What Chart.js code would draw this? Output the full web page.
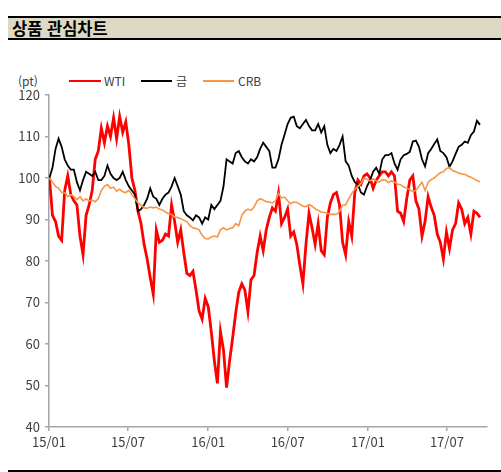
<!DOCTYPE html>
<html lang="ko">
<head>
<meta charset="utf-8">
<script src="https://cdn.jsdelivr.net/npm/chart.js@4.4.1/dist/chart.umd.min.js"></script>
<style>
    body { margin: 0; background: #fff; font-family: 'Noto Sans CJK KR', 'Noto Sans', sans-serif; }
    #wrap { position: relative; width: 501px; height: 472px; overflow: hidden; }
    #titlebar {
        position: absolute; left: 8px; top: 16px; width: 493px; height: 20px;
        background: #ddd9c4; border-top: 2px solid #000; border-bottom: 2px solid #000;
    }
    #titlebar span { position: absolute; left: 4px; top: 0; line-height: 20px; font-size: 16.5px; font-weight: bold; color: #000; }
    #bottomline { position: absolute; left: 8px; top: 470px; width: 493px; height: 2px; background: #000; }
    .lbl { position: absolute; font-size: 12px; color: #404040; line-height: 14px; }
    .key { position: absolute; height: 2px; }
    canvas { position: absolute; left: 0; top: 0; }
</style>
</head>
<body>
<div id="wrap">
    <div id="titlebar"><span>상품 관심차트</span></div>
    <div class="lbl" style="left:18px; top:74px;">(pt)</div>
    <div class="key" style="left:69px; top:80px; width:32px; background:#ff0000;"></div>
    <div class="lbl" style="left:104px; top:74px;">WTI</div>
    <div class="key" style="left:141px; top:80px; width:31px; background:#000;"></div>
    <div class="lbl" style="left:176px; top:74px;">금</div>
    <div class="key" style="left:203px; top:80px; width:31px; background:#f79646;"></div>
    <div class="lbl" style="left:238px; top:74px;">CRB</div>
    <canvas id="chart" width="501" height="472"></canvas>
    <div id="bottomline"></div>
</div>
<script>
// 주간 지수 (2015/01/02 = 100), 매주 금요일 기준
const firstDate = '2015-01-02';

const wti = [
    100, 91, 89.5, 86, 85, 97, 100.5, 96, 94.5, 93.5,
    86, 81.5, 91, 93.5, 97, 104.5, 106.5, 112, 108.5, 112.5,
    110, 114.5, 109.5, 114.8, 111, 113.5, 108, 100, 97, 92,
    89, 84, 80.5, 76, 72, 87.5, 84.5, 85, 86.5, 86,
    93.5, 89.5, 84.5, 87.5, 82, 77, 76.5, 77.5, 73, 68,
    66, 71, 69,
    63, 56, 50.5, 63, 58.5, 49.5, 56, 61.5, 67.5, 72.5,
    74.5, 73, 67.8, 75.5, 76.5, 82, 86, 82.5, 87.5, 90.5,
    92.8, 92, 96.3, 89, 90.5, 92.5, 86, 87, 84, 79,
    74.5, 84, 91.5, 88, 84, 89, 82.5, 81.5, 90.5, 94,
    96, 96.5, 93.5, 84.5, 81.5, 89.5, 86, 96.5, 99.5, 98.5,
    100.5, 101,
    100, 97.5, 99.5, 100.5, 101.5, 101.5, 100.5, 101.5, 100.5, 92,
    91.5, 89.5, 95, 99.5, 100.5, 94.5, 92.5, 86, 89.5, 95.5,
    93, 91, 86.5, 84.5, 80.5, 87, 83, 87.5, 89, 94,
    92.5, 89, 90.5, 86.5, 92, 91.5, 90.5
];

const gold = [
    100, 102.5, 107, 109.5, 107.5, 104.5, 103, 102, 102, 99,
    97, 99.5, 101.5, 101, 100.5, 101.5, 99.5, 99.5, 100.5, 103,
    101, 100, 99.5, 100, 101.5, 99.5, 98, 97, 96, 92,
    92.5, 93.5, 95, 97.5, 95.5, 95, 93.5, 95, 96, 96.5,
    98, 100, 98, 96, 92, 91, 90.5, 89.8, 91, 90.5,
    89, 90.5, 90,
    93.5, 92.5, 93.5, 94.5, 98, 104.5, 104, 103.5, 106, 106.5,
    105, 104, 103.5, 104.5, 104, 105, 107, 108.5, 107.5, 106.5,
    102.5, 102.5, 104.5, 108, 110.5, 113, 114.5, 114.8, 112.5, 112,
    113, 114, 112.5, 111.5, 111.5, 113, 111, 112.5, 108, 106,
    107, 106.5, 108, 110, 104, 103, 100.5, 99, 98.5, 96.5,
    96, 98,
    99.5, 101.5, 102.5, 101, 104.5, 105.5, 105.5, 106, 103.5, 102,
    104.5, 105.5, 105.8, 106.3, 108.8, 109, 107.5, 104.5, 102.8, 106,
    107, 108.2, 109.3, 106.5, 106, 105, 102.7, 104, 105.8, 107.5,
    108, 108.8, 108.5, 110.3, 111.2, 113.8, 112.8
];

const crb = [
    100, 99, 98, 97.5, 96.5, 96.5, 95.5, 96, 95.5, 94.8,
    95.5, 94.5, 95, 94.5, 94.7, 94.3, 95, 97, 98, 98.4,
    97.5, 97.8, 96.8, 97.3, 96.7, 96.5, 97, 96, 95, 94,
    93.5, 92.8, 92.7, 93, 92.8, 93, 92.5, 92.3, 91.8, 91.4,
    91.2, 90.6, 90.5, 90.2, 89.8, 89.5, 88.5, 88, 87.8, 87.5,
    86.2, 85.4, 85.3,
    85.8, 86, 85.8, 87.5, 88, 87.5, 87.8, 88, 89, 88.5,
    91, 92, 92.5, 92.2, 93, 94.5, 95, 94.7, 94.3, 94.2,
    94, 94.5, 96.3, 95.2, 95.4, 94.5, 93.8, 94.2, 94.1, 93.7,
    93.2, 93.1, 93.6, 93.2, 92.6, 92.2, 91.8, 91.7, 91.5, 91.2,
    91.3, 91.2, 92, 93.5, 93.5, 95, 96.3, 97.3, 98, 98.7,
    100, 99.7,
    99.3, 99.8, 99.3, 99, 99.6, 99.5, 98.9, 99.3, 99, 98.5,
    98.4, 97.8, 97.6, 97.2, 96.7, 97, 98, 99, 97, 99,
    99.6, 100, 100.7, 101.3, 101.5, 102.3, 102.5, 101.8, 101.5, 101.2,
    101, 100.9, 100.5, 100.2, 99.8, 99.4, 99.1
];

const tickLabels = ['15/01', '15/07', '16/01', '16/07', '17/01', '17/07'];
const tickDates = ['2015-01-01', '2015-07-01', '2016-01-01', '2016-07-01', '2017-01-01', '2017-07-01'];
const axisEnd = '2017-10-01';

function dayNum(s) {
    return Math.round((Date.parse(s) - Date.parse('2015-01-01')) / 86400000);
}

const tickDays = tickDates.map(dayNum);
const startDay = dayNum(firstDate);

function toPoints(values) {
    return values.map((v, i) => ({ x: startDay + i * 7, y: v }));
}

const axisFont = { family: "'Noto Sans CJK KR', 'Noto Sans', sans-serif", size: 13 };

new Chart(document.getElementById('chart').getContext('2d'), {
    type: 'line',
    data: {
        datasets: [
            { label: 'WTI', data: toPoints(wti), borderColor: '#ff0000', borderWidth: 2.8, order: 3 },
            { label: '금', data: toPoints(gold), borderColor: '#000000', borderWidth: 1.8, order: 2 },
            { label: 'CRB', data: toPoints(crb), borderColor: '#f79646', borderWidth: 1.6, order: 1 }
        ].map(ds => ({ ...ds, fill: false, pointRadius: 0, tension: 0 }))
    },
    options: {
        responsive: false,
        animation: false,
        events: [],
        layout: { padding: { top: 95, right: 14, bottom: 0, left: 0 } },
        plugins: { legend: { display: false }, tooltip: { enabled: false } },
        scales: {
            x: {
                type: 'linear',
                min: 0,
                max: dayNum(axisEnd),
                afterBuildTicks: scale => { scale.ticks = tickDays.map(v => ({ value: v })); },
                afterFit: scale => { scale.height = 45; },
                grid: { drawOnChartArea: false, tickLength: 4, color: '#a6a6a6', lineWidth: 1.5 },
                border: { color: '#a6a6a6', width: 1.5 },
                ticks: {
                    autoSkip: false,
                    maxRotation: 0,
                    padding: 3,
                    color: '#404040',
                    font: axisFont,
                    callback: value => tickLabels[tickDays.indexOf(value)]
                }
            },
            y: {
                min: 40,
                max: 120,
                afterFit: scale => { scale.width = 49; },
                grid: { drawOnChartArea: false, tickLength: 4, color: '#a6a6a6', lineWidth: 1.5 },
                border: { color: '#a6a6a6', width: 1.5 },
                ticks: { stepSize: 10, padding: 5, color: '#404040', font: axisFont }
            }
        }
    }
});
</script>
</body>
</html>
